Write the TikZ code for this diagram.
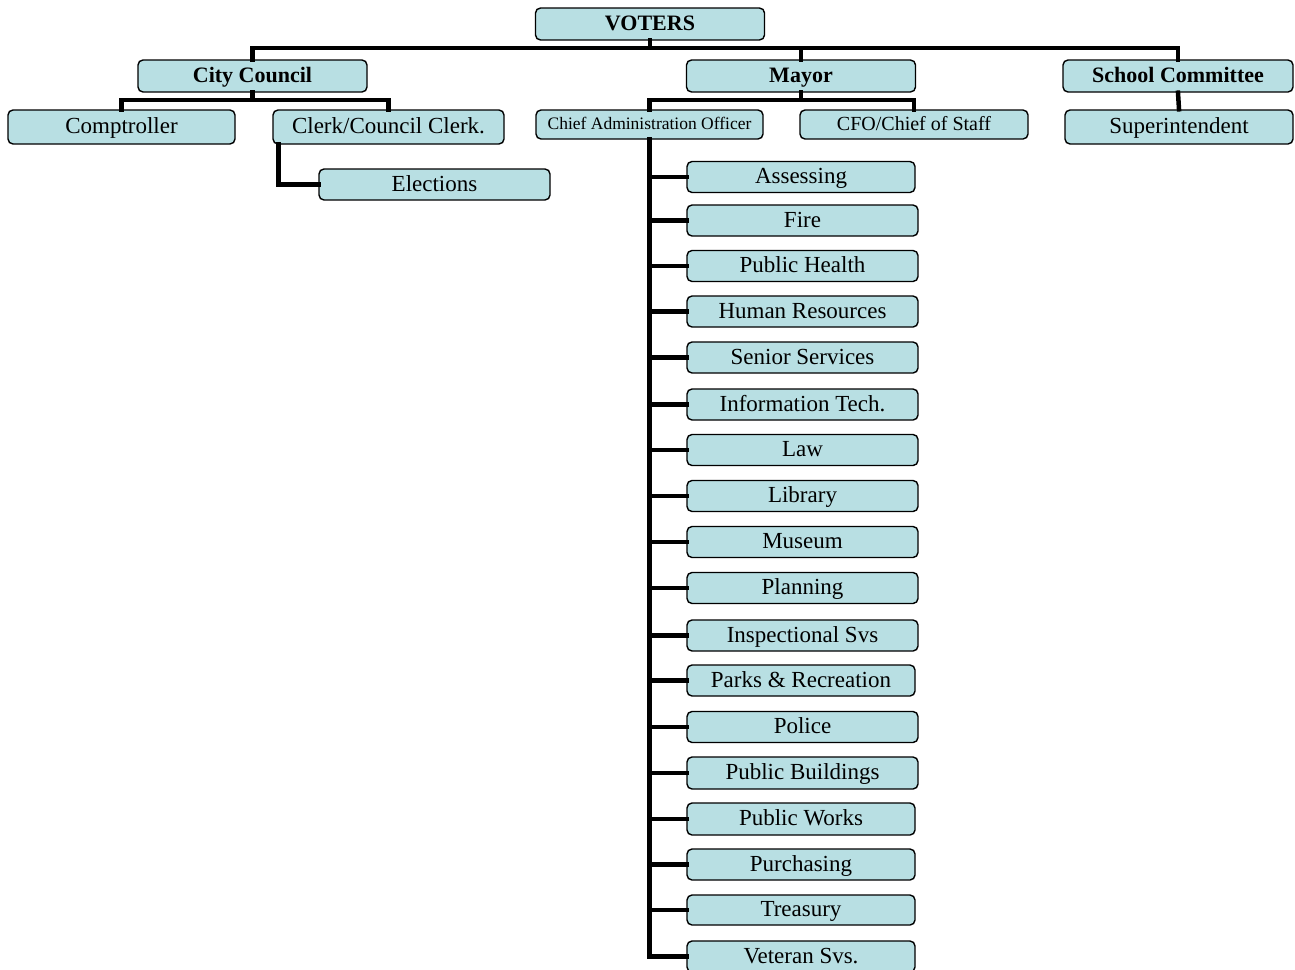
\documentclass[tikz,border=0pt]{standalone}
\usepackage{fontspec}
\setmainfont{Liberation Serif}
\definecolor{boxblue}{RGB}{184,223,227}
\begin{document}
\begin{tikzpicture}[x=1pt,y=-1pt,
  box/.style={draw=black, fill=boxblue, rounded corners=5pt, line width=1.4pt,
    inner sep=0pt, font=\fontsize{23}{25}\selectfont, text height=18pt, text depth=5pt,
    minimum width=229pt, minimum height=32pt},
  head/.style={box, font=\fontsize{22}{24}\bfseries\selectfont},
  dept/.style={box, minimum height=31pt},
  conn/.style={draw=black, line width=4.5pt, line join=miter, line cap=rect}]
\useasboundingbox (0,0) rectangle (1295,969);
\clip (0,0) rectangle (1295,969);
% top level
\node[head] (voters) at (650,24) {VOTERS};
\node[head] (council) at (252.5,76) {City Council};
\node[head] (mayor) at (801,76) {Mayor};
\node[head, minimum width=230pt] (school) at (1178,76) {School Committee};
% second level
\node[box, minimum height=34pt, minimum width=227pt] (comp) at (121.5,127) {Comptroller};
\node[box, minimum height=34pt, minimum width=231pt] (clerk) at (388.5,127) {Clerk/Council Clerk.};
\node[box, minimum height=29pt, minimum width=227pt, font=\fontsize{17.5}{19}\selectfont, text height=14pt, text depth=4pt] (cao) at (649.5,124.5) {Chief Administration Officer};
\node[box, minimum height=29pt, minimum width=228pt, font=\fontsize{20}{22}\selectfont, text height=15pt, text depth=4pt] (cfo) at (914,124.5) {CFO/Chief of Staff};
\node[box, minimum height=34pt, minimum width=228pt] (super) at (1179,127) {Superintendent};
\node[box, minimum height=31pt, minimum width=231pt] (elect) at (434.5,184.5) {Elections};
% departments
\node[dept, minimum width=228pt] (d1) at (801,177) {Assessing};
\node[dept, minimum width=231pt] (d2) at (802.5,220.5) {Fire};
\node[dept, minimum width=231pt] (d3) at (802.5,266) {Public Health};
\node[dept, minimum width=231pt] (d4) at (802.5,311.5) {Human Resources};
\node[dept, minimum width=231pt] (d5) at (802.5,357.5) {Senior Services};
\node[dept, minimum width=231pt] (d6) at (802.5,404.5) {Information Tech.};
\node[dept, minimum width=231pt] (d7) at (802.5,450) {Law};
\node[dept, minimum width=231pt] (d8) at (802.5,496) {Library};
\node[dept, minimum width=231pt] (d9) at (802.5,542) {Museum};
\node[dept, minimum width=231pt] (d10) at (802.5,588) {Planning};
\node[dept, minimum width=231pt] (d11) at (802.5,635.5) {Inspectional Svs};
\node[dept, minimum width=228pt] (d12) at (801,680.5) {Parks \& Recreation};
\node[dept, minimum width=231pt] (d13) at (802.5,727) {Police};
\node[dept, minimum width=231pt, minimum height=32pt] (d14) at (802.5,773) {Public Buildings};
\node[dept, minimum width=228pt, minimum height=32pt] (d15) at (801,819) {Public Works};
\node[dept, minimum width=228pt] (d16) at (801,864.5) {Purchasing};
\node[dept, minimum width=228pt, minimum height=30pt] (d17) at (801,910) {Treasury};
\node[dept, minimum width=228pt] (d18) at (801,956.5) {Veteran Svs.};
% connectors
\coordinate (bus1) at (0,48);
\coordinate (bus2) at (0,100);
\draw[conn] (council.north) -- (council.north |- bus1) -- (school.north |- bus1) -- (school.north);
\draw[conn] (voters.south) -- (voters.south |- bus1);
\draw[conn] (mayor.north) -- (mayor.north |- bus1);
\draw[conn] (comp.north) -- (comp.north |- bus2) -- (clerk.north |- bus2) -- (clerk.north);
\draw[conn] (council.south) -- (council.south |- bus2);
\draw[conn] (cao.north) -- (cao.north |- bus2) -- (cfo.north |- bus2) -- (cfo.north);
\draw[conn] (mayor.south) -- (mayor.south |- bus2);
\draw[conn] (school.south) -- (super.north);
\draw[conn] ([xshift=6pt]clerk.south west) |- (elect.west);
\draw[conn] (cao.south) |- (d18.west);
\foreach \d in {d1,d2,d3,d4,d5,d6,d7,d8,d9,d10,d11,d12,d13,d14,d15,d16,d17}
  \draw[conn] (cao.south |- \d.west) -- (\d.west);
\end{tikzpicture}
\end{document}
